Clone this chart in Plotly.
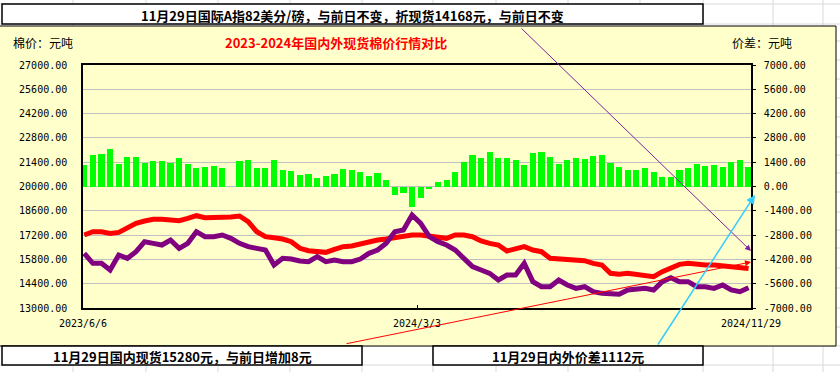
import plotly.graph_objects as go

# ---------------- data (weekly readings, Wednesday of each trading week) ----------------
dates = [
    "2023-06-07", "2023-06-14", "2023-06-21", "2023-06-28", "2023-07-05", "2023-07-12", "2023-07-19", "2023-07-26",
    "2023-08-02", "2023-08-09", "2023-08-16", "2023-08-23", "2023-08-30", "2023-09-06", "2023-09-13", "2023-09-20",
    "2023-09-27", "2023-10-04", "2023-10-11", "2023-10-18", "2023-10-25", "2023-11-01", "2023-11-08", "2023-11-15",
    "2023-11-22", "2023-11-29", "2023-12-06", "2023-12-13", "2023-12-20", "2023-12-27", "2024-01-03", "2024-01-10",
    "2024-01-17", "2024-01-24", "2024-01-31", "2024-02-07", "2024-02-14", "2024-02-21", "2024-02-28", "2024-03-06",
    "2024-03-13", "2024-03-20", "2024-03-27", "2024-04-03", "2024-04-10", "2024-04-17", "2024-04-24", "2024-05-01",
    "2024-05-08", "2024-05-15", "2024-05-22", "2024-05-29", "2024-06-05", "2024-06-12", "2024-06-19", "2024-06-26",
    "2024-07-03", "2024-07-10", "2024-07-17", "2024-07-24", "2024-07-31", "2024-08-07", "2024-08-14", "2024-08-21",
    "2024-08-28", "2024-09-04", "2024-09-11", "2024-09-18", "2024-09-25", "2024-10-02", "2024-10-09", "2024-10-16",
    "2024-10-23", "2024-10-30", "2024-11-06", "2024-11-13", "2024-11-20", "2024-11-27",
]

# 国内现货 (red, left axis)
domestic = [
    17205, 17397, 17397, 17300, 17358, 17627, 17877, 18011, 18107, 18107, 18069, 18030, 18165, 18318, 18203, 18203,
    18203, 18242, 18299, 17973, 17397, 17109, 17051, 16974, 16821, 16437, 16302, 16245, 16206, 16379, 16533, 16571,
    16706, 16821, 16917, 16974, 17051, 17109, 17205, 17205, 17147, 17109, 17013, 17205, 17205, 17109, 16859, 16725,
    16629, 16283, 16437, 16533, 16341, 16245, 15861, 15822, 15803, 15707, 15726, 15573, 15477, 14997, 14939, 14997,
    14939, 14901, 14805, 15093, 15323, 15515, 15573, 15515, 15477, 15477, 15419, 15381, 15323, 15280,
]

# 国际A指折现货 (purple, left axis)
international = [
    16149, 15573, 15573, 15189, 16053, 15861, 16245, 16821, 16725, 16629, 16917, 16437, 16725, 17397, 17109, 17109,
    17205, 17013, 16725, 16533, 16437, 16341, 15477, 15861, 15822, 15707, 15669, 15957, 15669, 15765, 15669, 15669,
    15822, 16149, 16341, 16725, 17397, 17493, 18357, 17877, 17109, 16821, 16629, 16341, 15861, 15381, 15189, 14997,
    14613, 14901, 14901, 15573, 14517, 14229, 14229, 14613, 14325, 14133, 14229, 13941, 13845, 13845, 13787, 14037,
    14094, 14133, 14037, 14517, 14748, 14517, 14517, 14229, 14229, 14133, 14325, 14037, 13941, 14168,
]

# 内外价差 (green bars, right axis)
spread = [
    1238, 1814, 1872, 2160, 1277, 1718, 1718, 1334, 1469, 1488, 1334, 1622, 1296, 1085, 1142, 1162,
    1046, None, 1469, 1526, 1046, 1046, 1526, 950, 893, 662, 700, 470, 624, 700, 989, 950,
    854, 624, 758, 374, -490, -394, -1162, -650, -150, 278, 374, 854, 1430, 1814, 1622, 2006,
    1622, 1622, 1526, 1238, 1910, 2006, 1718, 1277, 1526, 1622, 1584, 1776, 1814, 1334, 1142, 950,
    950, 1046, 854, 566, 566, 950, 1085, 1277, 1200, 1238, 1142, 1430, 1526, 1112,
]

left_ticks = [13000, 14400, 15800, 17200, 18600, 20000, 21400, 22800, 24200, 25600, 27000]
right_ticks = [-7000, -5600, -4200, -2800, -1400, 0, 1400, 2800, 4200, 5600, 7000]
x_tick_dates = ["2023-06-06", "2024-03-03", "2024-11-29"]
x_tick_labels = ["2023/6/6", "2024/3/3", "2024/11/29"]

# ---------------- layout geometry (pixels) ----------------
W, H = 840, 372
PL, PR, PT, PB = 83, 751, 65, 308


def fx(x):
    return (x - PL) / (PR - PL)


def fy(y):
    return (PB - y) / (PB - PT)


TICKFONT = dict(family="DejaVu Sans Mono", size=10, color="#000000")
CJK = "Noto Sans CJK SC"

fig = go.Figure()
fig.add_trace(go.Bar(
    x=dates, y=spread, yaxis="y", marker=dict(color="#00FF00", line=dict(width=0)),
    width=5 * 86400000, name="内外价差",
))
fig.add_trace(go.Scatter(
    x=dates, y=domestic, yaxis="y2", mode="lines",
    line=dict(color="#FF0000", width=5), name="国内现货",
))
fig.add_trace(go.Scatter(
    x=dates, y=international, yaxis="y2", mode="lines",
    line=dict(color="#800080", width=5), name="国际现货",
))

shapes = []
# spreadsheet cell grid behind everything
for gx in [73, 146, 218, 290, 362, 433, 496, 568, 640, 703, 773, 823]:
    shapes.append(dict(type="line", xref="paper", yref="paper", layer="below",
                       x0=fx(gx), x1=fx(gx), y0=fy(0), y1=fy(H),
                       line=dict(color="#D9D9D9", width=1)))
for gy in [4, 24, 41, 60, 79, 98, 117, 137, 155, 173, 192, 212, 230, 248, 268, 288, 308, 327, 346, 365]:
    shapes.append(dict(type="line", xref="paper", yref="paper", layer="below",
                       x0=fx(0), x1=fx(W), y0=fy(gy), y1=fy(gy),
                       line=dict(color="#D9D9D9", width=1)))
# chart area
shapes.append(dict(type="rect", xref="paper", yref="paper", layer="below",
                   x0=fx(-2), x1=fx(836), y0=fy(346), y1=fy(26),
                   fillcolor="#FFFFCC", line=dict(color="#000000", width=1)))
# text boxes
for (x0, y0, x1, y1) in [(2, 4, 703, 24), (2, 346, 362, 365), (433, 346, 703, 365)]:
    shapes.append(dict(type="rect", xref="paper", yref="paper", layer="above",
                       x0=fx(x0), x1=fx(x1), y0=fy(y1), y1=fy(y0),
                       fillcolor="#FFFFFF", line=dict(color="#000000", width=1.5)))

annotations = []


def text(x, y, s, size=13, color="#000000", anchor="center", bold=False):
    annotations.append(dict(
        xref="paper", yref="paper", x=fx(x), y=fy(y), xanchor=anchor, yanchor="middle",
        text=("<b>%s</b>" % s) if bold else s, showarrow=False,
        font=dict(family=CJK, size=size, color=color),
    ))


text(352, 15, "11月29日国际A指82美分/磅，与前日不变，折现货14168元，与前日不变", bold=True)
text(182, 356, "11月29日国内现货15280元，与前日增加8元", bold=True)
text(568, 356, "11月29日内外价差1112元", bold=True)
text(336, 42, "2023-2024年国内外现货棉价行情对比", color="#FF0000", bold=True)
text(11, 42, "棉价：元吨", size=12, anchor="left")
text(730, 42, "价差：元吨", size=12, anchor="left")


def arrow(x_tail, y_tail, x_tip, y_tip, color, width):
    annotations.append(dict(
        xref="paper", yref="paper", x=fx(x_tip), y=fy(y_tip),
        ax=x_tail - x_tip, ay=y_tail - y_tip, axref="pixel", ayref="pixel",
        text="", showarrow=True, arrowhead=2, arrowsize=1.2, arrowwidth=width, arrowcolor=color,
    ))


arrow(520, 27, 751, 251, "#7F1F9F", 1)
arrow(345, 344, 751, 262, "#FF0000", 1)
arrow(657, 346, 755, 195, "#33CCFF", 1.5)

fig.update_layout(
    width=W, height=H,
    margin=dict(l=PL, r=W - PR, t=PT, b=H - PB, pad=0),
    paper_bgcolor="#FFFFFF", plot_bgcolor="#FFFFCC",
    showlegend=False, bargap=0,
    xaxis=dict(
        type="date", range=["2023-06-06", "2024-11-29"],
        tickvals=x_tick_dates, ticktext=x_tick_labels, tickfont=TICKFONT,
        showgrid=False, zeroline=False, showline=True, linecolor="#000000", linewidth=1.5,
        mirror=True, ticks="inside", ticklen=3, tickcolor="#000000", ticklabelstandoff=5,
    ),
    yaxis=dict(
        side="right", range=[-7000, 7000], tickvals=right_ticks,
        ticktext=["%.2f" % v for v in right_ticks], tickfont=TICKFONT,
        showgrid=True, gridcolor="#C0C0C0", gridwidth=1, zeroline=False,
        showline=True, linecolor="#000000", linewidth=1.5,
        ticks="outside", ticklen=3, tickcolor="#000000", ticklabelstandoff=6,
    ),
    yaxis2=dict(
        side="left", overlaying="y", range=[13000, 27000], tickvals=left_ticks,
        ticktext=["%.2f" % v for v in left_ticks], tickfont=TICKFONT,
        showgrid=False, zeroline=False, showline=True, linecolor="#000000", linewidth=1.5,
        ticks="", ticklabelstandoff=12,
    ),
    shapes=shapes, annotations=annotations,
)

fig.write_html(
    "out.html",
    config={"displayModeBar": False},
    post_script="document.body.style.margin='0';document.body.style.padding='0';document.body.style.overflow='hidden';",
)
